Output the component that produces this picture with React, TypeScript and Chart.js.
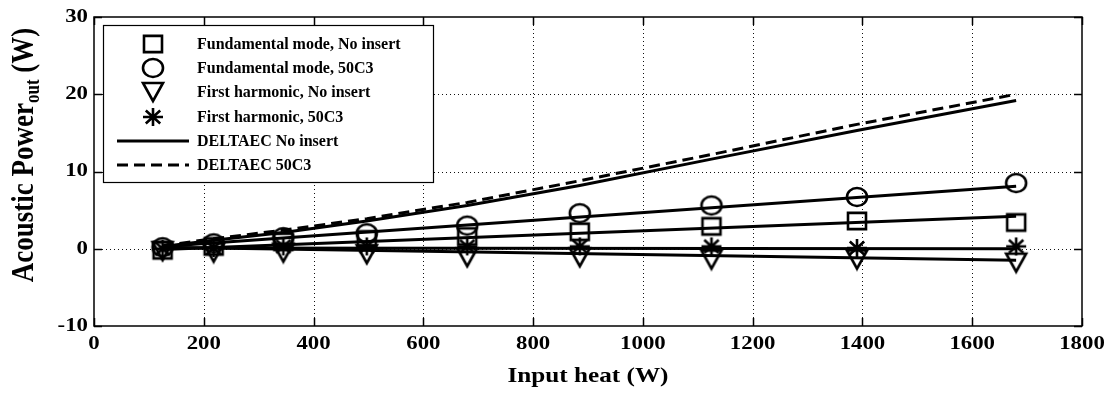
import React, { useEffect, useRef } from 'react';
import { Chart, registerables } from 'chart.js';

Chart.register(...registerables);

// Measured acoustic power versus input heat
const inputHeat = [125, 218, 345, 497, 680, 885, 1125, 1390, 1680];
const fundamentalNoInsert = [-0.2, 0.3, 0.9, 1.2, 1.6, 2.2, 2.9, 3.6, 3.4];
const fundamental50C3 = [0.2, 0.7, 1.5, 2.0, 3.0, 4.6, 5.6, 6.7, 8.5];
const harmonicNoInsert = [-0.3, -0.5, -0.5, -0.7, -1.1, -1.1, -1.4, -1.4, -1.8];
const harmonic50C3 = [0.0, 0.1, 0.3, 0.3, 0.3, 0.3, 0.3, 0.1, 0.3];

// DELTAEC predictions
const deltaecNoInsert = [0.3, 1.1, 2.1, 3.6, 5.6, 8.2, 11.6, 15.3, 19.2];
const deltaec50C3 = [0.4, 1.3, 2.4, 3.9, 6.0, 8.8, 12.2, 16.1, 20.0];

// Straight-line trends through the measurements (end points)
const fitHeat = [125, 1680];
const fundamentalNoInsertFit = [-0.1, 4.2];
const fundamental50C3Fit = [0.3, 8.1];
const harmonicNoInsertFit = [0.2, -1.5];
const harmonic50C3Fit = [0.1, 0.0];

const xTicks = [0, 200, 400, 600, 800, 1000, 1200, 1400, 1600, 1800];
const yTicks = [-10, 0, 10, 20, 30];

const legendLabels = [
  'Fundamental mode, No insert',
  'Fundamental mode, 50C3',
  'First harmonic, No insert',
  'First harmonic, 50C3',
  'DELTAEC No insert',
  'DELTAEC 50C3',
];

const SERIF = '"Liberation Serif", "Times New Roman", serif';
const MW = 20;
const MH = 18;

type MarkerKind = 'square' | 'circle' | 'triangleDown' | 'asterisk';

function traceMarker(ctx: CanvasRenderingContext2D, kind: MarkerKind, w: number, h: number) {
  ctx.beginPath();
  if (kind === 'square') {
    const s = w * 0.9;
    const t = h * 0.9;
    ctx.rect(-s / 2, -t / 2, s, t);
  } else if (kind === 'circle') {
    ctx.ellipse(0, 0, w / 2, h / 2, 0, 0, Math.PI * 2);
  } else if (kind === 'triangleDown') {
    ctx.moveTo(-w / 2, -h / 2);
    ctx.lineTo(w / 2, -h / 2);
    ctx.lineTo(0, h / 2);
    ctx.closePath();
  } else {
    const rx = w / 2;
    const ry = h / 2;
    ctx.moveTo(0, -ry);
    ctx.lineTo(0, ry);
    ctx.moveTo(-rx, 0);
    ctx.lineTo(rx, 0);
    const d = 0.72;
    ctx.moveTo(-rx * d, -ry * d);
    ctx.lineTo(rx * d, ry * d);
    ctx.moveTo(-rx * d, ry * d);
    ctx.lineTo(rx * d, -ry * d);
  }
  ctx.stroke();
}

function makeMarker(kind: MarkerKind): HTMLCanvasElement {
  const c = document.createElement('canvas');
  c.width = MW + 6;
  c.height = MH + 6;
  const ctx = c.getContext('2d')!;
  ctx.translate(c.width / 2, c.height / 2);
  ctx.strokeStyle = '#000';
  ctx.lineWidth = 2.6;
  ctx.lineJoin = 'miter';
  traceMarker(ctx, kind, MW, MH);
  return c;
}

function stretchedText(
  ctx: CanvasRenderingContext2D,
  text: string,
  x: number,
  y: number,
  align: CanvasTextAlign,
  font: string,
  sx: number
) {
  ctx.save();
  ctx.translate(x, y);
  ctx.scale(sx, 1);
  ctx.font = font;
  ctx.textAlign = align;
  ctx.textBaseline = 'middle';
  ctx.fillStyle = '#000';
  ctx.fillText(text, 0, 0);
  ctx.restore();
}

const legendKinds: (MarkerKind | 'solid' | 'dashed')[] = [
  'square',
  'circle',
  'triangleDown',
  'asterisk',
  'solid',
  'dashed',
];

const axesPlugin = {
  id: 'matlabAxes',
  beforeDatasetsDraw(chart: any) {
    const { ctx, chartArea: a, scales } = chart;
    const x = scales.x;
    const y = scales.y;
    ctx.save();
    ctx.strokeStyle = '#111';
    ctx.lineWidth = 1;
    ctx.setLineDash([1, 3]);
    xTicks.slice(1, -1).forEach((v) => {
      const px = Math.round(x.getPixelForValue(v)) + 0.5;
      ctx.beginPath();
      ctx.moveTo(px, a.top);
      ctx.lineTo(px, a.bottom);
      ctx.stroke();
    });
    yTicks.slice(1, -1).forEach((v) => {
      const py = Math.round(y.getPixelForValue(v)) + 0.5;
      ctx.beginPath();
      ctx.moveTo(a.left, py);
      ctx.lineTo(a.right, py);
      ctx.stroke();
    });
    ctx.restore();
  },
  afterDraw(chart: any) {
    const { ctx, chartArea: a, scales } = chart;
    const x = scales.x;
    const y = scales.y;
    ctx.save();

    // frame and inward ticks on all four sides
    ctx.setLineDash([]);
    ctx.strokeStyle = '#000';
    ctx.lineWidth = 1.5;
    ctx.strokeRect(a.left, a.top, a.right - a.left, a.bottom - a.top);
    ctx.lineWidth = 1.5;
    const tl = 8;
    xTicks.forEach((v) => {
      const px = Math.round(x.getPixelForValue(v)) + 0.5;
      ctx.beginPath();
      ctx.moveTo(px, a.bottom);
      ctx.lineTo(px, a.bottom - tl);
      ctx.moveTo(px, a.top);
      ctx.lineTo(px, a.top + tl);
      ctx.stroke();
    });
    yTicks.forEach((v) => {
      const py = Math.round(y.getPixelForValue(v)) + 0.5;
      ctx.beginPath();
      ctx.moveTo(a.left, py);
      ctx.lineTo(a.left + tl, py);
      ctx.moveTo(a.right, py);
      ctx.lineTo(a.right - tl, py);
      ctx.stroke();
    });

    // tick labels
    const tickFont = `bold 19px ${SERIF}`;
    xTicks.forEach((v) => {
      stretchedText(ctx, String(v), x.getPixelForValue(v), a.bottom + 18, 'center', tickFont, 1.2);
    });
    yTicks.forEach((v) => {
      stretchedText(ctx, String(v), a.left - 6, y.getPixelForValue(v), 'right', tickFont, 1.2);
    });

    // x-axis title
    stretchedText(ctx, 'Input heat (W)', (a.left + a.right) / 2, 377, 'center', `bold 21px ${SERIF}`, 1.2);

    // y-axis title with subscript
    ctx.save();
    ctx.translate(25, 155);
    ctx.rotate(-Math.PI / 2);
    ctx.scale(1, 1.2);
    ctx.fillStyle = '#000';
    ctx.textBaseline = 'middle';
    ctx.textAlign = 'left';
    const mainFont = `bold 27px ${SERIF}`;
    const subFont = `bold 17px ${SERIF}`;
    ctx.font = mainFont;
    const p1 = 'Acoustic Power';
    const p3 = ' (W)';
    const w1 = ctx.measureText(p1).width;
    const w3 = ctx.measureText(p3).width;
    ctx.font = subFont;
    const p2 = 'out';
    const w2 = ctx.measureText(p2).width;
    let cx = -(w1 + w2 + w3) / 2;
    ctx.font = mainFont;
    ctx.fillText(p1, cx, 0);
    cx += w1;
    ctx.font = subFont;
    ctx.fillText(p2, cx, 7);
    cx += w2;
    ctx.font = mainFont;
    ctx.fillText(p3, cx, 0);
    ctx.restore();

    // legend box
    const bx = 103;
    const by = 25;
    const bw = 330;
    const bh = 157;
    ctx.fillStyle = '#fff';
    ctx.fillRect(bx, by, bw, bh);
    ctx.strokeStyle = '#000';
    ctx.lineWidth = 1.2;
    ctx.strokeRect(bx + 0.5, by + 0.5, bw, bh);
    const rows = [44, 68, 92, 117, 141, 165];
    legendLabels.forEach((label, i) => {
      const ry = rows[i];
      const kind = legendKinds[i];
      ctx.save();
      ctx.strokeStyle = '#000';
      if (kind === 'solid' || kind === 'dashed') {
        ctx.lineWidth = 3;
        ctx.setLineDash(kind === 'dashed' ? [11, 6] : []);
        ctx.beginPath();
        ctx.moveTo(117, ry);
        ctx.lineTo(189, ry);
        ctx.stroke();
      } else {
        ctx.translate(153, ry);
        ctx.lineWidth = 2.6;
        traceMarker(ctx, kind, MW, MH);
      }
      ctx.restore();
      ctx.font = `bold 16px ${SERIF}`;
      ctx.fillStyle = '#000';
      ctx.textAlign = 'left';
      ctx.textBaseline = 'middle';
      ctx.fillText(label, 197, ry + 1);
    });

    ctx.restore();
  },
};

function points(xs: number[], ys: number[]) {
  return xs.map((v, i) => ({ x: v, y: ys[i] }));
}

export default function App() {
  const ref = useRef<HTMLCanvasElement | null>(null);

  useEffect(() => {
    document.body.style.margin = '0';
    const canvas = ref.current;
    if (!canvas) return;

    const markerSet = (label: string, ys: number[], kind: MarkerKind) => ({
      label,
      data: points(inputHeat, ys),
      showLine: false,
      pointStyle: makeMarker(kind),
      pointRadius: 10,
      borderColor: '#000',
      backgroundColor: 'transparent',
    });
    const lineSet = (label: string, xs: number[], ys: number[], dash: number[] = []) => ({
      label,
      data: points(xs, ys),
      showLine: true,
      borderColor: '#000',
      borderWidth: 3,
      borderDash: dash,
      pointRadius: 0,
      fill: false,
      tension: 0,
    });

    const chart = new Chart(canvas, {
      type: 'scatter',
      data: {
        datasets: [
          markerSet(legendLabels[0], fundamentalNoInsert, 'square'),
          markerSet(legendLabels[1], fundamental50C3, 'circle'),
          markerSet(legendLabels[2], harmonicNoInsert, 'triangleDown'),
          markerSet(legendLabels[3], harmonic50C3, 'asterisk'),
          lineSet(legendLabels[4], inputHeat, deltaecNoInsert),
          lineSet(legendLabels[5], inputHeat, deltaec50C3, [11, 6]),
          lineSet('trend 1', fitHeat, fundamentalNoInsertFit),
          lineSet('trend 2', fitHeat, fundamental50C3Fit),
          lineSet('trend 3', fitHeat, harmonicNoInsertFit),
          lineSet('trend 4', fitHeat, harmonic50C3Fit),
        ] as any,
      },
      options: {
        animation: false,
        responsive: false,
        devicePixelRatio: 1,
        layout: { padding: { top: 17, right: 32, left: 0, bottom: 0 } },
        plugins: {
          legend: { display: false },
          tooltip: { enabled: false },
          title: { display: false },
        },
        scales: {
          x: {
            type: 'linear',
            min: 0,
            max: 1800,
            ticks: { display: false, stepSize: 200 },
            grid: { display: false },
            border: { display: false },
            afterFit: (s: any) => {
              s.height = 67;
            },
          },
          y: {
            type: 'linear',
            min: -10,
            max: 30,
            ticks: { display: false, stepSize: 10 },
            grid: { display: false },
            border: { display: false },
            afterFit: (s: any) => {
              s.width = 94;
            },
          },
        },
      } as any,
      plugins: [axesPlugin],
    });

    return () => chart.destroy();
  }, []);

  return (
    <div style={{ width: 1114, height: 393, background: '#fff' }}>
      <canvas ref={ref} width={1114} height={393} style={{ display: 'block' }} />
    </div>
  );
}
